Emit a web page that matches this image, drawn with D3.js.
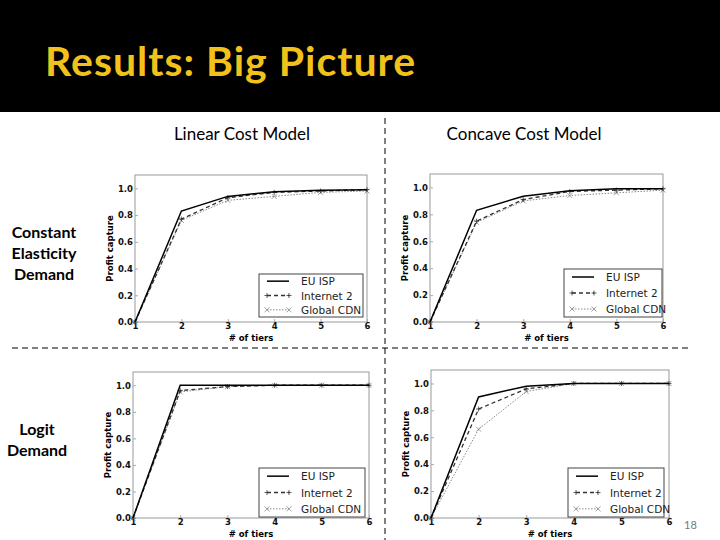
<!DOCTYPE html>
<html>
<head>
<meta charset="utf-8">
<script src="https://cdn.jsdelivr.net/npm/d3@7"></script>
<style>
  body { margin: 0; background: #fff; }
  svg text { font-family: "DejaVu Sans", sans-serif; }
</style>
</head>
<body>
<div id="chart"></div>
<script>
var tiers = [1, 2, 3, 4, 5, 6];
var seriesNames = ['EU ISP', 'Internet 2', 'Global CDN'];
var yTicks = [0, 0.2, 0.4, 0.6, 0.8, 1.0];
var colHeads = ['Linear Cost Model', 'Concave Cost Model'];

// constant elasticity demand
var ceLinearEU = [0, 0.83, 0.94, 0.975, 0.985, 0.99];
var ceLinearI2 = [0, 0.77, 0.93, 0.97, 0.98, 0.99];
var ceLinearCDN = [0, 0.76, 0.91, 0.94, 0.97, 0.98];
var ceConcaveEU = [0, 0.83, 0.935, 0.975, 0.99, 0.99];
var ceConcaveI2 = [0, 0.75, 0.91, 0.97, 0.98, 0.99];
var ceConcaveCDN = [0, 0.74, 0.90, 0.94, 0.96, 0.98];
// logit demand
var lgLinearEU = [0, 1.0, 1.0, 1.0, 1.0, 1.0];
var lgLinearI2 = [0, 0.96, 0.99, 1.0, 1.0, 1.0];
var lgLinearCDN = [0, 0.95, 0.99, 1.0, 1.0, 1.0];
var lgConcaveEU = [0, 0.90, 0.98, 1.0, 1.0, 1.0];
var lgConcaveI2 = [0, 0.81, 0.96, 1.0, 1.0, 1.0];
var lgConcaveCDN = [0, 0.66, 0.94, 1.0, 1.0, 1.0];

var W = 720, H = 540;
var svg = d3.select('#chart').append('svg').attr('width', W).attr('height', H);

// header band
svg.append('rect').attr('x', 0).attr('y', 0).attr('width', W).attr('height', 112).attr('fill', '#000');
svg.append('text').attr('x', 45).attr('y', 76)
  .style('font-family', 'Lato, sans-serif').style('font-size', '41px').style('font-weight', 'bold')
  .style('letter-spacing', '1px')
  .attr('fill', '#f2c21b').text('Results: Big Picture');

// column heads
svg.append('text').attr('x', 242).attr('y', 140).attr('text-anchor', 'middle')
  .style('font-family', 'Lato, sans-serif').style('font-size', '17px').text(colHeads[0]);
svg.append('text').attr('x', 524).attr('y', 140).attr('text-anchor', 'middle')
  .style('font-family', 'Lato, sans-serif').style('font-size', '17px').text(colHeads[1]);

// row heads
var rowHeads = [
  {x: 44, y: [238, 259, 280], lines: ['Constant', 'Elasticity', 'Demand']},
  {x: 37, y: [435, 456], lines: ['Logit', 'Demand']}
];
rowHeads.forEach(function(r) {
  r.lines.forEach(function(l, i) {
    svg.append('text').attr('x', r.x).attr('y', r.y[i]).attr('text-anchor', 'middle')
      .style('font-family', 'Lato, sans-serif').style('font-size', '16px').style('font-weight', 'bold')
      .text(l);
  });
});

// dashed dividers
svg.append('line').attr('x1', 385).attr('x2', 385).attr('y1', 118).attr('y2', 540)
  .attr('stroke', '#000').attr('stroke-dasharray', '6,4');
svg.append('line').attr('x1', 12).attr('x2', 688).attr('y1', 348).attr('y2', 348)
  .attr('stroke', '#000').attr('stroke-dasharray', '6,4');

// page number
svg.append('text').attr('x', 684).attr('y', 529).attr('fill', '#777')
  .style('font-family', 'Lato, sans-serif').style('font-size', '11px').text('18');

var panels = [
  {l: 135, r: 367, t: 175, b: 322, series: [ceLinearEU, ceLinearI2, ceLinearCDN], leg: [259, 274, 104, 43]},
  {l: 430, r: 663, t: 174, b: 322, series: [ceConcaveEU, ceConcaveI2, ceConcaveCDN], leg: [564, 269, 98, 48]},
  {l: 133, r: 369, t: 372, b: 518, series: [lgLinearEU, lgLinearI2, lgLinearCDN], leg: [259, 468, 106, 49]},
  {l: 431, r: 669, t: 370, b: 518, series: [lgConcaveEU, lgConcaveI2, lgConcaveCDN], leg: [568, 468, 96, 49]}
];

var styles = [
  {stroke: '#000', width: 1.5, dash: null, marker: null},
  {stroke: '#333', width: 1.3, dash: '4,3', marker: 'plus'},
  {stroke: '#888', width: 1, dash: '1.5,1.5', marker: 'x'}
];

function drawMarker(g, type, x, y, color) {
  if (!type) return;
  var s = 2.5;
  var d = type === 'x'
    ? 'M' + (x - s) + ',' + (y - s) + 'L' + (x + s) + ',' + (y + s) + 'M' + (x - s) + ',' + (y + s) + 'L' + (x + s) + ',' + (y - s)
    : 'M' + (x - s) + ',' + y + 'L' + (x + s) + ',' + y + 'M' + x + ',' + (y - s) + 'L' + x + ',' + (y + s);
  g.append('path').attr('d', d).attr('stroke', color).attr('stroke-width', 0.8).attr('fill', 'none');
}

panels.forEach(function(p) {
  var g = svg.append('g');
  var x = d3.scaleLinear().domain([1, 6]).range([p.l, p.r]);
  var y = d3.scaleLinear().domain([0, 1.1]).range([p.b, p.t]);

  // frame
  g.append('rect').attr('x', p.l).attr('y', p.t).attr('width', p.r - p.l).attr('height', p.b - p.t)
    .attr('fill', '#fff').attr('stroke', '#999').attr('stroke-width', 1);

  // axes (ticks inside)
  var xa = g.append('g').attr('transform', 'translate(0,' + p.b + ')')
    .call(d3.axisBottom(x).tickValues(tiers).tickSize(-3).tickPadding(1).tickFormat(d3.format('d')));
  var ya = g.append('g').attr('transform', 'translate(' + p.l + ',0)')
    .call(d3.axisLeft(y).tickValues(yTicks).tickSize(-3).tickPadding(2).tickFormat(d3.format('.1f')));
  [xa, ya].forEach(function(a) {
    a.select('.domain').remove();
    a.selectAll('line').attr('stroke', '#aaa');
    a.selectAll('text').style('font-size', '8.5px').style('font-weight', 'bold').attr('fill', '#111');
  });

  g.append('text').attr('x', (p.l + p.r) / 2).attr('y', p.b + 19).attr('text-anchor', 'middle')
    .style('font-size', '8.5px').style('font-weight', 'bold').text('# of tiers');
  g.append('text').attr('transform', 'translate(' + (p.l - 22) + ',' + ((p.t + p.b) / 2) + ') rotate(-90)')
    .attr('text-anchor', 'middle').style('font-size', '8.5px').style('font-weight', 'bold').text('Profit capture');

  var line = d3.line().x(function(d, i) { return x(tiers[i]); }).y(function(d) { return y(d); });

  // draw CDN first, EU ISP last so it sits on top
  [2, 1, 0].forEach(function(k) {
    var st = styles[k];
    g.append('path').datum(p.series[k]).attr('d', line).attr('fill', 'none')
      .attr('stroke', st.stroke).attr('stroke-width', st.width).attr('stroke-dasharray', st.dash);
    p.series[k].forEach(function(v, i) { drawMarker(g, st.marker, x(tiers[i]), y(v), st.stroke); });
  });

  // legend
  var lg = g.append('g').attr('transform', 'translate(' + p.leg[0] + ',' + p.leg[1] + ')');
  lg.append('rect').attr('width', p.leg[2]).attr('height', p.leg[3])
    .attr('fill', '#fff').attr('stroke', '#444').attr('stroke-width', 1);
  var rowH = p.leg[3] / 3;
  seriesNames.forEach(function(n, k) {
    var st = styles[k];
    var cy = rowH * (k + 0.5);
    lg.append('line').attr('x1', 8).attr('x2', 30).attr('y1', cy).attr('y2', cy)
      .attr('stroke', st.stroke).attr('stroke-width', st.width).attr('stroke-dasharray', st.dash);
    drawMarker(lg, st.marker, 8, cy, st.stroke);
    drawMarker(lg, st.marker, 30, cy, st.stroke);
    lg.append('text').attr('x', 42).attr('y', cy + 4).style('font-size', '10.5px').attr('fill', '#222').text(n);
  });
});
</script>
</body>
</html>
